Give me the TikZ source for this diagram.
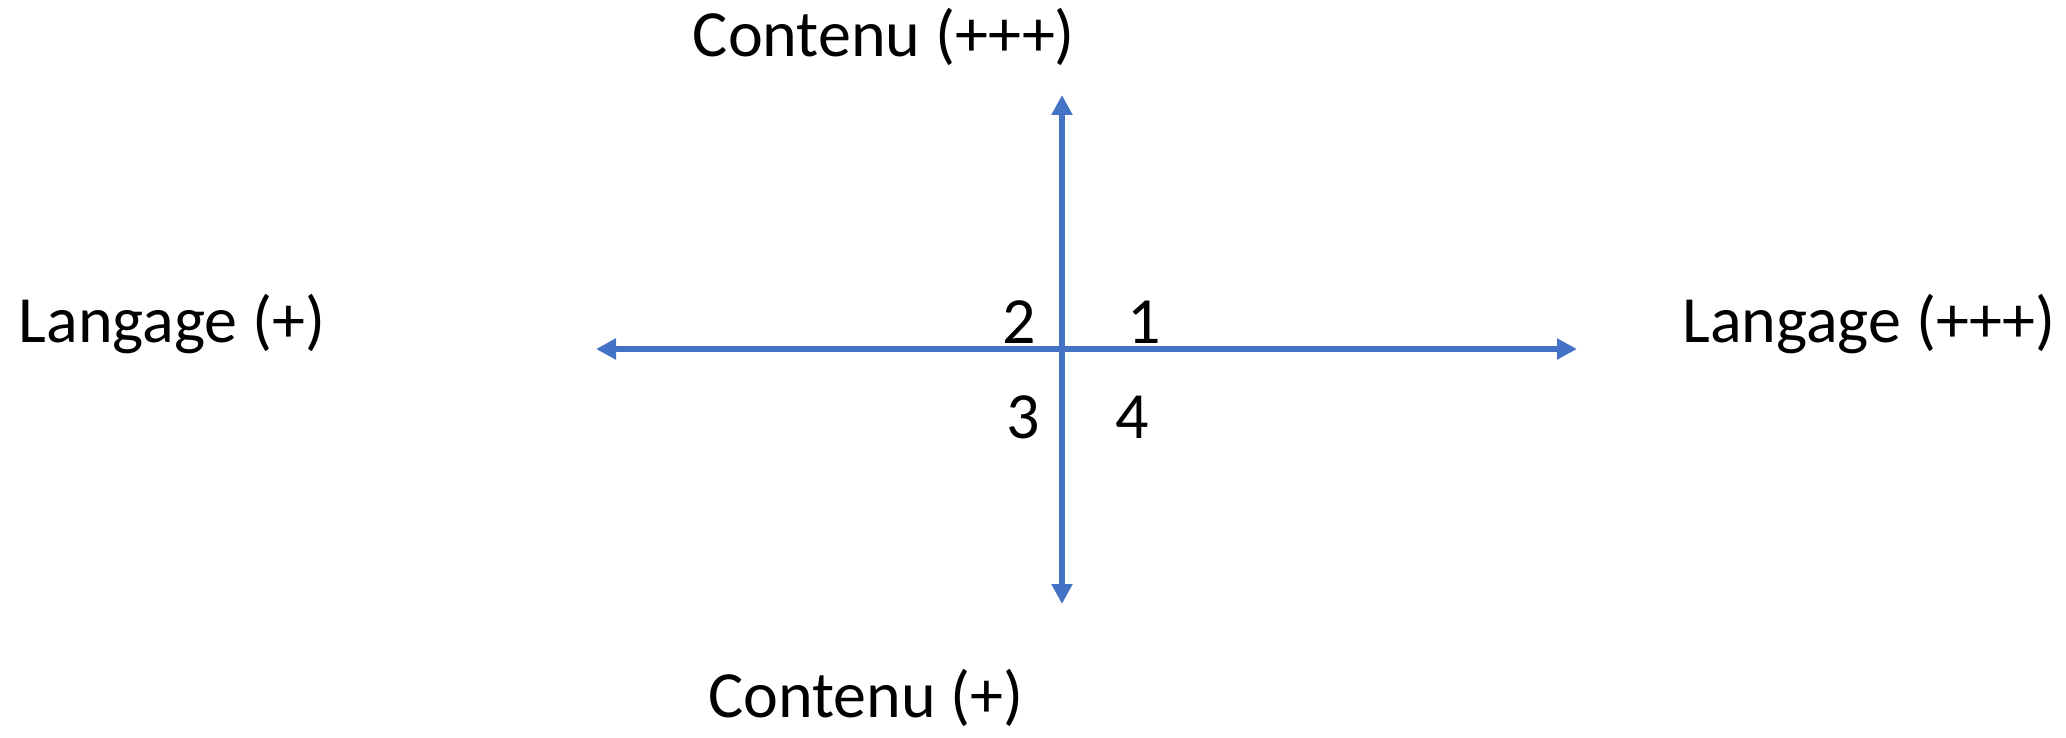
\documentclass[tikz,border=0pt]{standalone}
\usepackage{fontspec}
\setmainfont{Carlito}
\usetikzlibrary{arrows.meta}
\definecolor{axisblue}{HTML}{4472C4}
\begin{document}
\begin{tikzpicture}[x=1pt,y=-1pt,
  lbl/.style={inner sep=0pt,anchor=base,font=\fontsize{66}{78}\selectfont},
  axis/.style={draw=axisblue,line width=6pt,{Triangle[width=20pt,length=20pt]}-{Triangle[width=20pt,length=20pt]}}]
\useasboundingbox (0,0) rectangle (2066,738);
\coordinate (top) at (1062,95);
\coordinate (bot) at (1062,604);
\coordinate (left) at (596,349);
\coordinate (right) at (1577,349);
\draw[axis] (bot) -- (top);
\draw[axis] (left) -- (right);
\node[lbl] (cplus3) at (884,57) {Contenu (+++)};
\node[lbl] (cplus1) at (866,717) {Contenu (+)};
\node[lbl] (lplus1) at (172,342) {Langage (+)};
\node[lbl] (lplus3) at (1869,342) {Langage (+++)};
\node[lbl] (q2) at (1019,343) {2};
\node[lbl] (q1) at (1144,343) {1};
\node[lbl] (q3) at (1023,438) {3};
\node[lbl] (q4) at (1132,438) {4};
\end{tikzpicture}
\end{document}
